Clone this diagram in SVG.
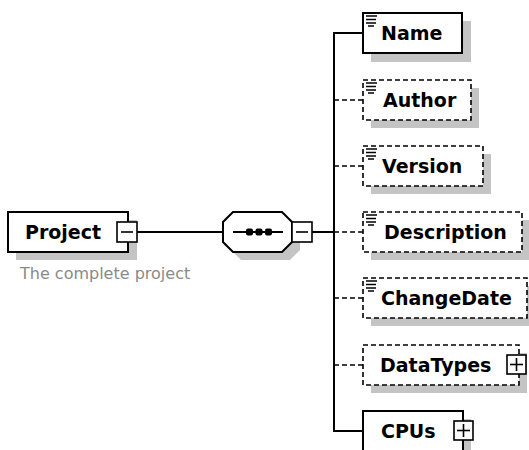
<svg xmlns="http://www.w3.org/2000/svg" width="529" height="450" viewBox="0 0 529 450">
<style>
.shadow{fill:#c4c4c4;stroke:none}
.box{fill:#fff;stroke:#000;stroke-width:2}
.opt{fill:#fff;stroke:#000;stroke-width:1.6;stroke-dasharray:5 3}
.lbl{font-family:"DejaVu Sans",Verdana,sans-serif;font-weight:bold;font-size:19px;fill:#000}
.ann{font-family:"DejaVu Sans",Verdana,sans-serif;font-size:16px;fill:#8a8a8a}
.wire{fill:none;stroke:#000;stroke-width:2}
.wired{fill:none;stroke:#000;stroke-width:1.6;stroke-dasharray:5 3}
.tog{fill:#fff;stroke:#000;stroke-width:1.6}
.sign{stroke:#000;stroke-width:1.6;fill:none}
.ico{stroke:#000;stroke-width:1.5}
</style>
<defs>
<g id="icon"><line class="ico" x1="366" y1="16" x2="377" y2="16"/><line class="ico" x1="366" y1="19.5" x2="376" y2="19.5"/><line class="ico" x1="366" y1="23" x2="376" y2="23"/><line class="ico" x1="368" y1="26" x2="374" y2="26"/></g>
</defs>
<g id="connectors">
<line class="wire" x1="137" y1="232" x2="223" y2="232"/>
<line class="wire" x1="312" y1="232" x2="334" y2="232"/>
<line class="wire" x1="334" y1="32" x2="334" y2="432"/>
<line class="wire" x1="334" y1="33" x2="363" y2="33"/>
<line class="wired" x1="334" y1="100" x2="363" y2="100"/>
<line class="wired" x1="334" y1="166" x2="363" y2="166"/>
<line class="wired" x1="334" y1="232" x2="363" y2="232"/>
<line class="wired" x1="334" y1="298" x2="363" y2="298"/>
<line class="wired" x1="334" y1="365" x2="363" y2="365"/>
<line class="wire" x1="334" y1="431" x2="363" y2="431"/>
</g>
<g id="project">
<rect class="shadow" x="16" y="220" width="121" height="40"/>
<rect class="box" x="8" y="212" width="120" height="40"/>
<text class="lbl" x="25" y="239">Project</text>
<rect class="tog" x="117" y="222" width="20" height="20"/>
<line class="sign" x1="121" y1="232" x2="133" y2="232"/>
<text class="ann" x="20" y="279">The complete project</text>
</g>
<g id="sequence">
<polygon class="shadow" points="241,220 290,220 300,230 300,250 290,260 241,260 231,250 231,230"/>
<polygon class="box" points="233,212 282,212 292,222 292,242 282,252 233,252 223,242 223,222"/>
<line class="wire" x1="233" y1="232" x2="283" y2="232"/>
<rect x="246" y="228.5" width="7" height="7" rx="2" fill="#000"/>
<rect x="255.5" y="228.5" width="7" height="7" rx="2" fill="#000"/>
<rect x="265" y="228.5" width="7" height="7" rx="2" fill="#000"/>
<rect class="tog" x="292" y="222" width="20" height="20"/>
<line class="sign" x1="296" y1="232" x2="308" y2="232"/>
</g>
<g id="name">
<rect class="shadow" x="371" y="21" width="100" height="41"/>
<rect class="box" x="363" y="13" width="99" height="40"/>
<use href="#icon"/>
<text class="lbl" x="381" y="40">Name</text>
</g>
<g id="author">
<rect class="shadow" x="371" y="88" width="108" height="40"/>
<rect class="opt" x="363" y="80" width="108" height="40"/>
<use href="#icon" y="67"/>
<text class="lbl" x="383" y="107">Author</text>
</g>
<g id="version">
<rect class="shadow" x="371" y="154" width="120" height="40"/>
<rect class="opt" x="363" y="146" width="120" height="40"/>
<use href="#icon" y="133"/>
<text class="lbl" x="382" y="173">Version</text>
</g>
<g id="description">
<rect class="shadow" x="371" y="220" width="159" height="40"/>
<rect class="opt" x="363" y="212" width="159" height="40"/>
<use href="#icon" y="199"/>
<text class="lbl" x="384" y="239">Description</text>
</g>
<g id="changedate">
<rect class="shadow" x="371" y="286" width="164" height="40"/>
<rect class="opt" x="363" y="278" width="164" height="40"/>
<use href="#icon" y="265"/>
<text class="lbl" x="381" y="305">ChangeDate</text>
</g>
<g id="datatypes">
<rect class="shadow" x="371" y="353" width="156" height="40"/>
<rect class="opt" x="363" y="345" width="156" height="40"/>
<text class="lbl" x="380" y="372">DataTypes</text>
<rect class="tog" x="507" y="355" width="19" height="19"/>
<line class="sign" x1="510" y1="364.5" x2="523" y2="364.5"/>
<line class="sign" x1="516.5" y1="358" x2="516.5" y2="371"/>
</g>
<g id="cpus">
<rect class="shadow" x="371" y="419" width="100" height="40"/>
<rect class="box" x="363" y="411" width="100" height="40"/>
<text class="lbl" x="381" y="438">CPUs</text>
<rect class="tog" x="454" y="421" width="19" height="19"/>
<line class="sign" x1="457" y1="430.5" x2="470" y2="430.5"/>
<line class="sign" x1="463.5" y1="424" x2="463.5" y2="437"/>
</g>
</svg>
